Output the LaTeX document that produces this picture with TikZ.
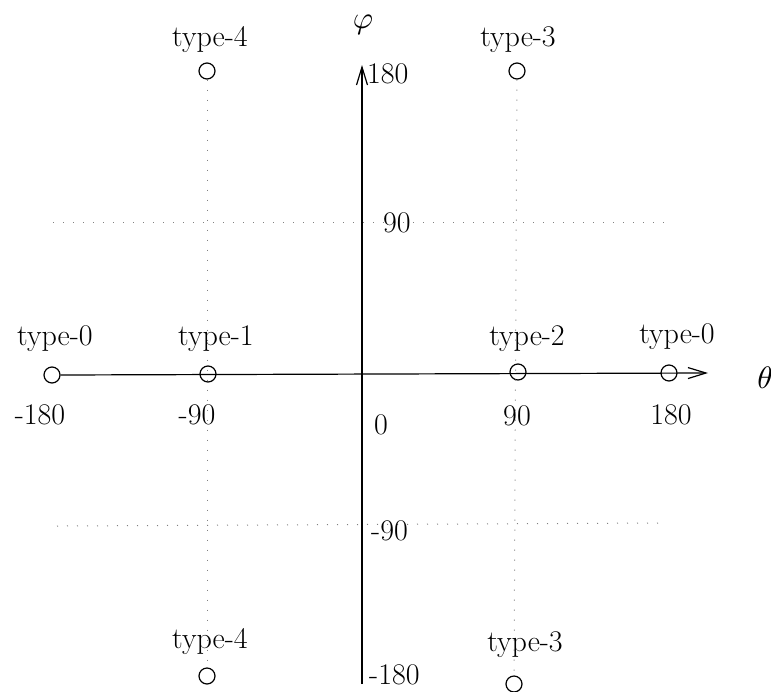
\documentclass[tikz,border=0pt]{standalone}
\usetikzlibrary{arrows.meta}
\begin{document}
\begin{tikzpicture}[x=1pt,y=-1pt,
  every node/.style={font=\fontsize{30}{35}\selectfont, inner sep=0pt},
  sym/.style={font=\normalsize, scale=3.1},
  pt/.style={circle, draw, line width=1.2pt, minimum size=16pt, inner sep=0pt},
  lab/.style={anchor=base},
  axis/.style={line width=1.2pt, -{Straight Barb[length=18pt,width=11pt,line width=1.2pt]}},
  grid/.style={gray, line width=1pt, dash pattern=on 1pt off 9pt}]
\useasboundingbox (0,0) rectangle (771,691);
% grid lines
\coordinate (h1l) at (53,222); \coordinate (h1r) at (668,222);
\coordinate (h2l) at (57,526); \coordinate (h2r) at (662,523);
\draw[grid] (h1l) -- (h1r);
\draw[grid] (h2l) -- (h2r);
% points
\node[pt] (c0l) at (52,375) {};
\node[pt] (c1) at (208,374) {};
\node[pt] (c2) at (518,372) {};
\node[pt] (c0r) at (669,373) {};
\node[pt] (c4t) at (207,71) {};
\node[pt] (c3t) at (517,71) {};
\node[pt] (c4b) at (207,676) {};
\node[pt] (c3b) at (514,684) {};
\draw[grid] (c4t) -- (c4b);
\draw[grid] (c3t) -- (c3b);
% axes
\coordinate (xtip) at (708,373);
\coordinate (ybot) at (362,684);
\coordinate (ytip) at (362,65);
\draw[axis] (c0l.east) -- (xtip);
\draw[axis] (ybot) -- (ytip);
% axis names
\node[sym] (phi) at (363,25) {$\varphi$};
\node[sym] (theta) at (765,378) {$\theta$};
% type labels
\node[lab] (l0l) at (55,345) {type-0};
\node[lab] (l1) at (216,345) {type-1};
\node[lab] (l2) at (527,345) {type-2};
\node[lab] (l0r) at (677,343) {type-0};
\node[lab] (l4t) at (210,46) {type-4};
\node[lab] (l3t) at (518,46) {type-3};
\node[lab] (l4b) at (210,648) {type-4};
\node[lab] (l3b) at (525,651) {type-3};
% numbers on theta axis
\node[lab] (n1) at (40,424) {-180};
\node[lab] (n2) at (197,424) {-90};
\node[lab] (n3) at (517,425) {90};
\node[lab] (n4) at (671,424) {180};
\node[lab] (n0) at (381,434) {0};
% numbers on phi axis
\node[anchor=base west] (m1) at (367,83) {180};
\node[anchor=base west] (m2) at (383,232) {90};
\node[anchor=base west] (m3) at (371,540) {-90};
\node[anchor=base west] (m4) at (369,684) {-180};
\end{tikzpicture}
\end{document}
